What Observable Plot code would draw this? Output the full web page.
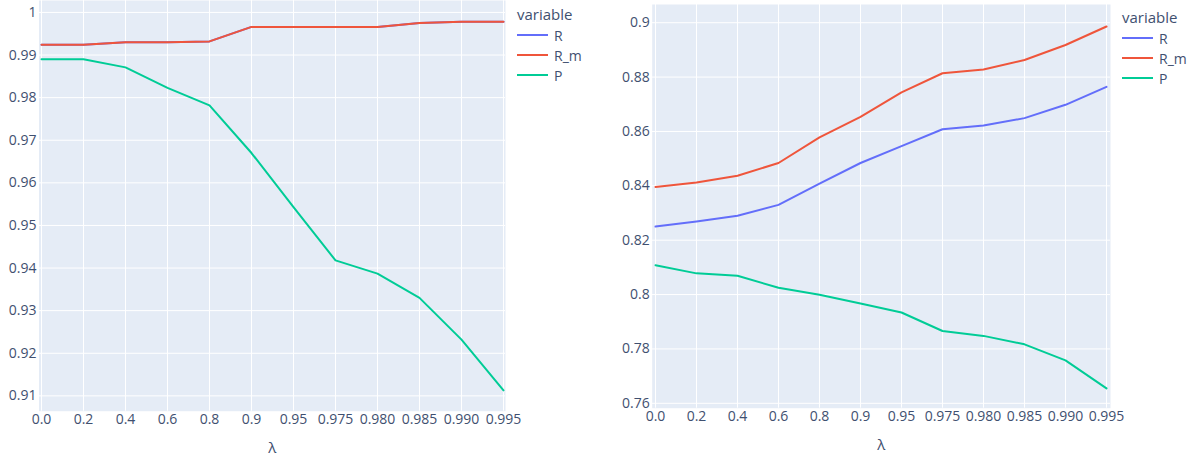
<!DOCTYPE html>
<html>
<head>
<meta charset="utf-8">
<script src="https://cdn.jsdelivr.net/npm/d3@7"></script>
<script src="https://cdn.jsdelivr.net/npm/@observablehq/plot@0.6"></script>
<style>
  html, body { margin: 0; padding: 0; background: #fff; }
  #wrap { position: relative; width: 1197px; height: 457px; overflow: hidden; font-family: "Open Sans", sans-serif; }
  #wrap svg { position: absolute; left: 0; top: 0; overflow: visible; }
  .legend { position: absolute; color: #3f5070; font-family: "Open Sans", sans-serif; }
  .legend .title { font-size: 15px; line-height: 18px; margin-bottom: 2px; }
  .legend .item { display: flex; align-items: center; height: 20px; font-size: 14px; }
  .legend .swatch { width: 31px; height: 0; border-top: 2px solid; margin-right: 6px; }
</style>
</head>
<body>
<div id="wrap"></div>
<script>
// ---- data ----
const lambdaLabels = ["0.0", "0.2", "0.4", "0.6", "0.8", "0.9", "0.95", "0.975", "0.980", "0.985", "0.990", "0.995"];
const seriesNames = ["R", "R_m", "P"];
const seriesColors = ["#636efa", "#ef553b", "#00cc96"];

// left panel
const leftR  = [0.9924, 0.9924, 0.9930, 0.9930, 0.9932, 0.9966, 0.9966, 0.9966, 0.9966, 0.9975, 0.9978, 0.9978];
const leftRm = [0.9924, 0.9924, 0.9930, 0.9930, 0.9932, 0.9966, 0.9966, 0.9966, 0.9966, 0.9975, 0.9978, 0.9978];
const leftP  = [0.9890, 0.9890, 0.9871, 0.9823, 0.9782, 0.9670, 0.9543, 0.9418, 0.9387, 0.9330, 0.9232, 0.9113];
const leftYTicks = [0.91, 0.92, 0.93, 0.94, 0.95, 0.96, 0.97, 0.98, 0.99, 1];

// right panel
const rightR  = [0.8250, 0.8269, 0.8290, 0.8330, 0.8408, 0.8484, 0.8546, 0.8608, 0.8622, 0.8649, 0.8698, 0.8764];
const rightRm = [0.8396, 0.8412, 0.8437, 0.8484, 0.8578, 0.8654, 0.8744, 0.8814, 0.8828, 0.8863, 0.8918, 0.8986];
const rightP  = [0.8108, 0.8078, 0.8069, 0.8025, 0.7999, 0.7967, 0.7934, 0.7866, 0.7848, 0.7817, 0.7758, 0.7655];
const rightYTicks = [0.76, 0.78, 0.8, 0.82, 0.84, 0.86, 0.88, 0.9];

const axisTitle = "λ";
const legendTitle = "variable";
const textColor = "#3f5070";

function tidy(R, Rm, P) {
  const out = [];
  [R, Rm, P].forEach((vals, i) => {
    vals.forEach((v, j) => out.push({lambda: lambdaLabels[j], value: v, variable: seriesNames[i]}));
  });
  return out;
}

function panel({data, yDomain, yTicks, marginLeft, marginRight, marginTop, marginBottom}) {
  return Plot.plot({
    width: 1197,
    height: 457,
    marginLeft, marginRight, marginTop, marginBottom,
    style: {fontFamily: "Open Sans, sans-serif", fontSize: "14px", color: textColor, background: "transparent", overflow: "visible"},
    x: {type: "point", domain: lambdaLabels, padding: 0},
    y: {domain: yDomain},
    color: {domain: seriesNames, range: seriesColors},
    marks: [
      Plot.frame({fill: "#e5ecf6", stroke: null}),
      Plot.gridX(lambdaLabels, {stroke: "#ffffff", strokeOpacity: 1, strokeWidth: 1}),
      Plot.gridY(yTicks, {stroke: "#ffffff", strokeOpacity: 1, strokeWidth: 1}),
      Plot.axisX({ticks: lambdaLabels, tickSize: 0, tickPadding: 2.5, label: null, fill: textColor, fontSize: 14}),
      Plot.axisY({ticks: yTicks, tickSize: 0, tickPadding: 2.5, label: null, tickFormat: d => String(d), fill: textColor, fontSize: 14}),
      Plot.line(data, {x: "lambda", y: "value", z: "variable", stroke: "variable", strokeWidth: 2}),
      Plot.text([axisTitle], {frameAnchor: "bottom", dy: 37, lineAnchor: "middle", fontSize: 15, fill: textColor})
    ]
  });
}

const wrap = document.getElementById("wrap");
wrap.appendChild(panel({
  data: tidy(leftR, leftRm, leftP),
  yDomain: [0.9064, 1.0028], yTicks: leftYTicks,
  marginLeft: 38.5, marginRight: 692, marginTop: 0, marginBottom: 46.3
}));
wrap.appendChild(panel({
  data: tidy(rightR, rightRm, rightP),
  yDomain: [0.7582, 0.9067], yTicks: rightYTicks,
  marginLeft: 651.7, marginRight: 87, marginTop: 4, marginBottom: 49.3
}));

function legend(left, top) {
  const d = document.createElement("div");
  d.className = "legend";
  d.style.left = left + "px";
  d.style.top = top + "px";
  const t = document.createElement("div");
  t.className = "title";
  t.textContent = legendTitle;
  d.appendChild(t);
  seriesNames.forEach((s, i) => {
    const it = document.createElement("div");
    it.className = "item";
    const sw = document.createElement("span");
    sw.className = "swatch";
    sw.style.borderColor = seriesColors[i];
    const lab = document.createElement("span");
    lab.textContent = s;
    it.appendChild(sw); it.appendChild(lab);
    d.appendChild(it);
  });
  wrap.appendChild(d);
}
legend(517, 5);
legend(1122, 8);
</script>
</body>
</html>
